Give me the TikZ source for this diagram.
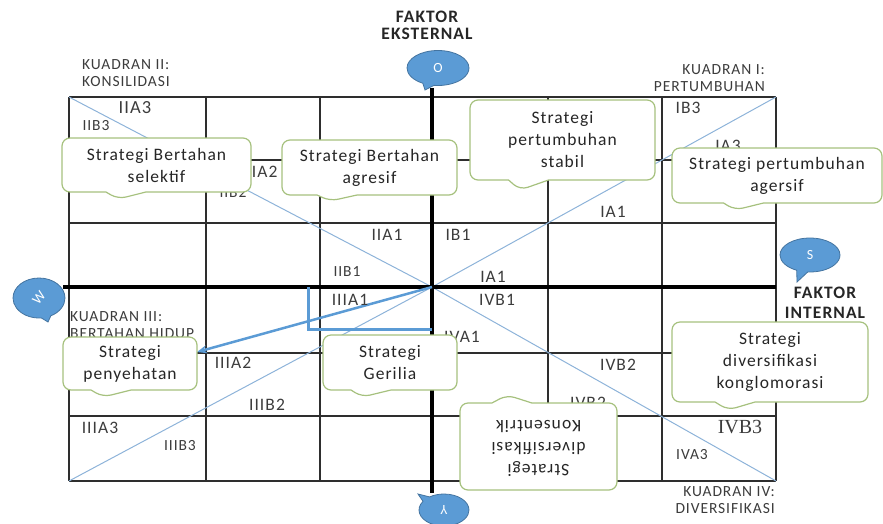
\documentclass[tikz,border=0pt]{standalone}
\usepackage{graphicx}
\usepackage{fontspec}
\setmainfont{Carlito}[LetterSpace=6.0]
\newfontfamily\serifnum{Liberation Serif}
\usetikzlibrary{shapes.callouts,arrows.meta}
\definecolor{gridgray}{HTML}{2E2E2E}
\definecolor{diagblue}{HTML}{8DB3D9}
\definecolor{pathblue}{HTML}{5B9BD5}
\definecolor{bubblegreen}{HTML}{A6C17E}
\definecolor{labelgray}{HTML}{3C3C3C}
\pgfdeclarelayer{edgelayer}
\pgfdeclarelayer{nodelayer}
\pgfsetlayers{edgelayer,nodelayer,main}
\tikzstyle{none}=[inner sep=0pt]
\tikzstyle{cell}=[inner sep=0pt,text=labelgray,font=\fontsize{17.5}{20}\selectfont]
\tikzstyle{smallcell}=[cell,font=\fontsize{15.5}{18}\selectfont]
\tikzstyle{quadrant}=[inner sep=0pt,text=labelgray,font=\fontsize{15.5}{16.5}\selectfont]
\tikzstyle{factor}=[inner sep=0pt,align=center,text=black!85,font=\bfseries\fontsize{17.5}{20}\selectfont]
\tikzstyle{strategy}=[rectangle callout,draw=bubblegreen,line width=1.2pt,fill=white,rounded corners=8pt,callout pointer width=40pt,align=center,inner sep=0pt,text=black!85,font=\fontsize{17.5}{22}\selectfont]
\tikzstyle{swot}=[ellipse callout,draw=pathblue!75!black,line width=0.8pt,fill=pathblue,text=white,minimum width=62pt,minimum height=35pt,inner sep=0pt,callout pointer arc=22,font=\fontsize{14}{16}\selectfont]
\tikzstyle{gridline}=[-,draw=gridgray,line width=1.6pt]
\tikzstyle{axisline}=[-,draw=black,line width=4.5pt]
\tikzstyle{diagonal}=[-,draw=diagblue,line width=1pt]
\tikzstyle{route}=[-,draw=pathblue,line width=3pt]
\tikzstyle{routearrow}=[-{Stealth[length=10pt,width=8pt]},draw=pathblue,line width=2.5pt]
\begin{document}
\begin{tikzpicture}[x=1pt,y=-1pt]
	\useasboundingbox (0,0) rectangle (883,523);
	\begin{pgfonlayer}{nodelayer}
		\node [style=none] (0) at (69, 97) {};
		\node [style=none] (1) at (69, 481) {};
		\node [style=none] (2) at (206, 97) {};
		\node [style=none] (3) at (206, 481) {};
		\node [style=none] (4) at (320, 97) {};
		\node [style=none] (5) at (320, 481) {};
		\node [style=none] (6) at (548, 97) {};
		\node [style=none] (7) at (548, 481) {};
		\node [style=none] (8) at (662, 97) {};
		\node [style=none] (9) at (662, 481) {};
		\node [style=none] (10) at (776, 97) {};
		\node [style=none] (11) at (776, 481) {};
		\node [style=none] (12) at (69, 160) {};
		\node [style=none] (13) at (776, 160) {};
		\node [style=none] (14) at (69, 223) {};
		\node [style=none] (15) at (776, 223) {};
		\node [style=none] (16) at (69, 353) {};
		\node [style=none] (17) at (776, 353) {};
		\node [style=none] (18) at (69, 416) {};
		\node [style=none] (19) at (776, 416) {};
		\node [style=none] (20) at (432, 88) {};
		\node [style=none] (21) at (432, 493) {};
		\node [style=none] (22) at (63, 287) {};
		\node [style=none] (23) at (776, 287) {};
		\node [style=none] (24) at (432, 287) {};
		\node [style=none] (25) at (308, 287) {};
		\node [style=none] (26) at (308, 329) {};
		\node [style=none] (27) at (432, 329) {};
		\node [style=none] (28) at (197, 352) {};
		\node [style=factor, font=\bfseries\fontsize{17.5}{17}\selectfont] (29) at (427, 25) {FAKTOR\\EKSTERNAL};
		\node [style=factor] (30) at (825, 303) {FAKTOR\\INTERNAL};
		\node [style=quadrant, anchor=west, align=left] (31) at (82, 73) {KUADRAN II:\\KONSILIDASI};
		\node [style=quadrant, anchor=east, align=right] (32) at (765, 78) {KUADRAN I:\\PERTUMBUHAN};
		\node [style=quadrant, anchor=west, align=left] (33) at (70, 325) {KUADRAN III:\\BERTAHAN HIDUP};
		\node [style=quadrant, anchor=east, align=right] (34) at (775, 500) {KUADRAN IV:\\DIVERSIFIKASI};
		\node [style=cell, font=\fontsize{18.5}{20}\selectfont] (35) at (135, 108) {IIA3};
		\node [style=smallcell] (36) at (96, 126) {IIB3};
		\node [style=cell] (37) at (262, 172) {IIA2};
		\node [style=smallcell] (38) at (233, 192) {IIB2};
		\node [style=cell] (39) at (387, 235) {IIA1};
		\node [style=cell] (40) at (458, 235) {IB1};
		\node [style=smallcell] (41) at (347, 272) {IIB1};
		\node [style=cell] (42) at (493, 277) {IA1};
		\node [style=cell] (43) at (350, 300) {IIIA1};
		\node [style=cell] (44) at (497, 300) {IVB1};
		\node [style=cell] (45) at (462, 337) {IVA1};
		\node [style=cell] (46) at (613, 212) {IA1};
		\node [style=cell] (47) at (688, 108) {IB3};
		\node [style=cell] (48) at (728, 146) {IA3};
		\node [style=cell] (49) at (233, 363) {IIIA2};
		\node [style=cell] (50) at (267, 405) {IIIB2};
		\node [style=cell] (51) at (100, 428) {IIIA3};
		\node [style=smallcell] (52) at (180, 446) {IIIB3};
		\node [style=cell] (53) at (618, 365) {IVB2};
		\node [style=cell] (54) at (588, 403) {IVB2};
		\node [style=cell, font=\serifnum\fontsize{20}{22}\selectfont] (55) at (740, 427) {IVB3};
		\node [style=smallcell] (56) at (692, 455) {IVA3};
		\node [style=strategy, minimum width=189pt, minimum height=54pt, callout absolute pointer={(118,199)}] (57) at (156.5, 165) {Strategi Bertahan\\selektif};
		\node [style=strategy, minimum width=175pt, minimum height=55pt, callout absolute pointer={(330,201)}] (58) at (369.5, 167.5) {Strategi Bertahan\\agresif};
		\node [style=strategy, minimum width=185pt, minimum height=80pt, callout absolute pointer={(520,190)}] (59) at (562.5, 140) {Strategi\\pertumbuhan\\stabil};
		\node [style=strategy, minimum width=210pt, minimum height=55pt, callout absolute pointer={(735,210)}] (60) at (777, 175.5) {Strategi pertumbuhan\\agersif};
		\node [style=strategy, minimum width=134pt, minimum height=53pt, callout absolute pointer={(103,397)}] (61) at (130, 363.5) {Strategi\\penyehatan};
		\node [style=strategy, minimum width=134pt, minimum height=55pt, callout absolute pointer={(362,397)}] (62) at (390, 362.5) {Strategi\\Gerilia};
		\node [style=strategy, minimum width=196pt, minimum height=80pt, callout absolute pointer={(728,410)}] (63) at (770, 362) {Strategi\\diversifikasi\\konglomorasi};
		\node [style=strategy, minimum width=157pt, minimum height=87pt, callout absolute pointer={(507,395)}] (64) at (538.5, 446.5) {\rotatebox{180}{\begin{tabular}{@{}c@{}}Strategi\\diversifikasi\\Konsentrik\end{tabular}}};
		\node [style=swot, callout absolute pointer={(425,90)}] (65) at (438, 68) {O};
		\node [style=swot, minimum width=60pt, minimum height=34pt, callout absolute pointer={(797,282)}] (66) at (810, 255) {S};
		\node [style=swot, minimum width=52pt, minimum height=40pt, callout absolute pointer={(48,322)}] (67) at (39, 298) {\rotatebox{50}{W}};
		\node [style=swot, minimum width=50pt, minimum height=32pt, callout absolute pointer={(418,494)}] (68) at (444, 510) {\rotatebox{180}{Y}};
	\end{pgfonlayer}
	\begin{pgfonlayer}{edgelayer}
		\draw [style=gridline] (0.center) to (1.center);
		\draw [style=gridline] (2.center) to (3.center);
		\draw [style=gridline] (4.center) to (5.center);
		\draw [style=gridline] (6.center) to (7.center);
		\draw [style=gridline] (8.center) to (9.center);
		\draw [style=gridline] (10.center) to (11.center);
		\draw [style=gridline] (0.center) to (10.center);
		\draw [style=gridline] (12.center) to (13.center);
		\draw [style=gridline] (14.center) to (15.center);
		\draw [style=gridline] (16.center) to (17.center);
		\draw [style=gridline] (18.center) to (19.center);
		\draw [style=gridline] (1.center) to (11.center);
		\draw [style=diagonal] (0.center) to (24.center);
		\draw [style=diagonal] (24.center) to (11.center);
		\draw [style=diagonal] (1.center) to (24.center);
		\draw [style=diagonal] (24.center) to (10.center);
		\draw [style=axisline] (20.center) to (21.center);
		\draw [style=axisline] (22.center) to (23.center);
		\draw [style=route] (25.center) to (26.center) to (27.center);
		\draw [style=routearrow] (24.center) to (28.center);
	\end{pgfonlayer}
\end{tikzpicture}
\end{document}
